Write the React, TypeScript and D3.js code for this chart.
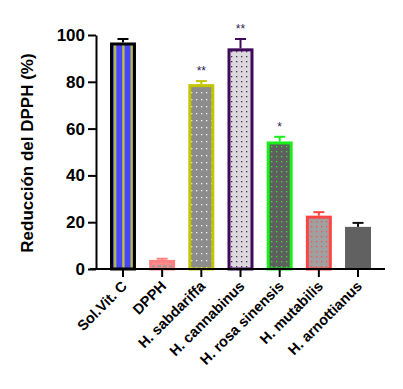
import * as d3 from 'd3';
import React, { useEffect, useRef } from 'react';

// Values
const categories = [
  'Sol.Vit. C',
  'DPPH',
  'H. sabdariffa',
  'H. cannabinus',
  'H. rosa sinensis',
  'H. mutabilis',
  'H. arnottianus',
];
const means = [96.8, 3.9, 79.0, 94.3, 54.5, 22.8, 18.0];
const errors = [1.5, 0.5, 1.3, 4.0, 2.0, 1.5, 1.7];
const significance = ['', '', '**', '**', '*', '', ''];
const yTicks = [0, 20, 40, 60, 80, 100];

// bar looks: pattern id + border colour (null = no border)
const barStyles = [
  { fill: 'url(#pVitC)', stroke: '#000000', err: '#000000' },
  { fill: 'url(#pDpph)', stroke: '#ff8080', err: '#ff8080' },
  { fill: 'url(#pSab)', stroke: '#c4c400', err: '#c4c400' },
  { fill: 'url(#pCan)', stroke: '#3f0a5c', err: '#3f0a5c' },
  { fill: 'url(#pRosa)', stroke: '#1aee1a', err: '#1aee1a' },
  { fill: 'url(#pMut)', stroke: '#ff4444', err: '#ff4444' },
  { fill: '#616161', stroke: null, err: '#111111' },
];

const W = 403;
const H = 389;
const FONT = 'Liberation Sans, Arial, sans-serif';

const App: React.FC = () => {
  const svgRef = useRef<SVGSVGElement>(null);

  useEffect(() => {
    if (!svgRef.current) return;
    const svg = d3.select(svgRef.current);
    svg.selectAll('*').remove();

    const defs = svg.append('defs');

    // vertical blue / yellow stripes
    const pv = defs.append('pattern').attr('id', 'pVitC')
      .attr('patternUnits', 'userSpaceOnUse').attr('width', 8.3).attr('height', 10)
      .attr('x', 111);
    pv.append('rect').attr('width', 8.3).attr('height', 10).attr('fill', '#4646ff');
    pv.append('rect').attr('x', 3).attr('width', 2.2).attr('height', 10).attr('fill', '#c8c828');

    const dotPattern = (id: string, bg: string, dot: string, w: number, h: number) => {
      const p = defs.append('pattern').attr('id', id)
        .attr('patternUnits', 'userSpaceOnUse').attr('width', w).attr('height', h);
      p.append('rect').attr('width', w).attr('height', h).attr('fill', bg);
      p.append('rect').attr('x', 1).attr('y', 1).attr('width', 1.3).attr('height', 1.3).attr('fill', dot);
    };
    dotPattern('pSab', '#8c8c8c', '#f4f4f4', 5, 7);
    dotPattern('pCan', '#dcd8dc', '#4a2a66', 5, 5);
    dotPattern('pRosa', '#5e5e5e', '#2ee62e', 5, 5);
    dotPattern('pMut', '#a0a0a0', '#ff5050', 5, 5);

    const pd = defs.append('pattern').attr('id', 'pDpph')
      .attr('patternUnits', 'userSpaceOnUse').attr('width', 6).attr('height', 6);
    pd.append('rect').attr('width', 6).attr('height', 6).attr('fill', '#ff8c8c');
    pd.append('rect').attr('x', 1).attr('y', 1).attr('width', 4).attr('height', 4).attr('fill', '#a89898');

    const x0 = 96;
    const x1 = 385;
    const y0 = 269;
    const y1 = 35;

    const x = d3.scaleBand<string>()
      .domain(categories)
      .range([x0, x1])
      .paddingInner(0.337)
      .paddingOuter(0.357);

    const y = d3.scaleLinear().domain([0, 100]).range([y0, y1]);

    const g = svg.append('g');

    // bars
    const bw = x.bandwidth();
    categories.forEach((c, i) => {
      const st = barStyles[i];
      const top = y(means[i]);
      const bx = x(c)!;
      const sw = st.stroke ? 3 : 0;
      g.append('rect')
        .attr('x', bx + sw / 2)
        .attr('y', top + sw / 2)
        .attr('width', bw - sw)
        .attr('height', Math.max(0, y0 - top - sw / 2))
        .attr('fill', st.fill)
        .attr('stroke', st.stroke ?? 'none')
        .attr('stroke-width', sw);

      // error bar (upper only)
      const cx = bx + bw / 2;
      const et = y(means[i] + errors[i]);
      g.append('line')
        .attr('x1', cx).attr('x2', cx)
        .attr('y1', top).attr('y2', et)
        .attr('stroke', st.err).attr('stroke-width', 2);
      g.append('line')
        .attr('x1', cx - 5.5).attr('x2', cx + 5.5)
        .attr('y1', et).attr('y2', et)
        .attr('stroke', st.err).attr('stroke-width', 2);

      if (significance[i]) {
        g.append('text')
          .attr('x', cx)
          .attr('y', et - 6)
          .attr('text-anchor', 'middle')
          .style('font-family', FONT)
          .style('font-size', '12px')
          .attr('fill', '#2c2050')
          .text(significance[i]);
      }
    });

    // y axis
    const yAxis = g.append('g')
      .attr('transform', `translate(${x0},0)`)
      .call(d3.axisLeft(y).tickValues(yTicks).tickSize(8).tickPadding(3).tickSizeOuter(0));
    yAxis.select('.domain').attr('stroke', '#000').attr('stroke-width', 2);
    yAxis.selectAll('line').attr('stroke', '#000').attr('stroke-width', 2);
    yAxis.selectAll('text')
      .style('font-family', FONT)
      .style('font-size', '17px')
      .style('font-weight', 'bold')
      .attr('fill', '#000');

    // x axis
    const xAxis = g.append('g')
      .attr('transform', `translate(0,${y0})`)
      .call(d3.axisBottom(x).tickSize(8).tickSizeOuter(0).tickFormat(() => ''));
    xAxis.select('.domain').attr('stroke', '#000').attr('stroke-width', 2)
      .attr('d', `M${x0 - 6},0H${x1}`);
    xAxis.selectAll('line').attr('stroke', '#000').attr('stroke-width', 2);

    // rotated category labels
    g.selectAll('.xlab')
      .data(categories)
      .join('text')
      .attr('class', 'xlab')
      .attr('transform', d => `translate(${x(d)! + bw / 2 + 5},${y0 + 18}) rotate(-45)`)
      .attr('text-anchor', 'end')
      .style('font-family', FONT)
      .style('font-size', '14.5px')
      .style('font-weight', 'bold')
      .attr('fill', '#000')
      .text(d => d);

    // y title
    svg.append('text')
      .attr('transform', `translate(33,${(y0 + y1) / 2 + 1}) rotate(-90)`)
      .attr('text-anchor', 'middle')
      .style('font-family', FONT)
      .style('font-size', '17px')
      .style('font-weight', 'bold')
      .attr('fill', '#000')
      .text('Reducción del DPPH (%)');
  }, []);

  return (
    <svg
      ref={svgRef}
      width={W}
      height={H}
      style={{ position: 'absolute', left: 0, top: 0, background: '#fff' }}
    />
  );
};

export default App;
